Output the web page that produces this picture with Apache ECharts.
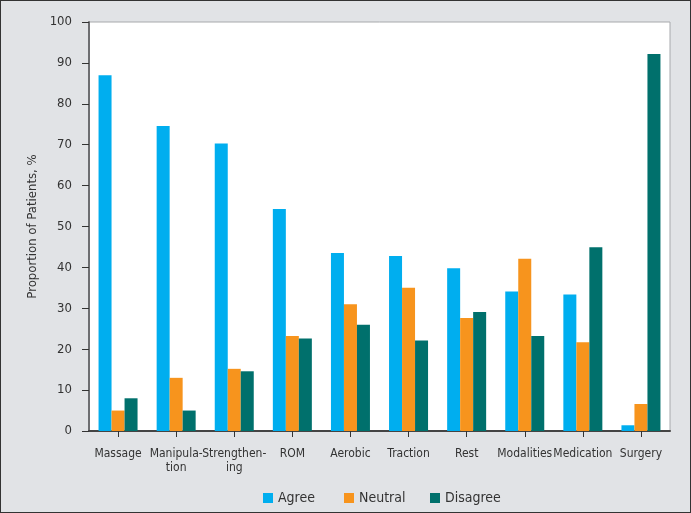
<!DOCTYPE html>
<html><head><meta charset="utf-8">
<script src="https://cdn.jsdelivr.net/npm/echarts@6/dist/echarts.min.js"></script>
<style>
html,body{margin:0;padding:0;background:#e1e3e6;}
#c{width:689px;height:511px;border:1px solid #333;background:#e1e3e6;}
</style></head>
<body><div id="c"></div>
<script>
const categories = ['Massage','Manipula-\ntion','Strengthen-\ning','ROM','Aerobic','Traction','Rest','Modalities','Medication','Surgery'];
const agree =    [87.0, 74.6, 70.3, 54.3, 43.5, 42.8, 39.8, 34.1, 33.4, 1.4];
const neutral =  [5.0, 13.0, 15.2, 23.2, 31.0, 35.0, 27.6, 42.1, 21.7, 6.6];
const disagree = [8.0, 5.0, 14.6, 22.6, 26.0, 22.1, 29.1, 23.2, 44.9, 92.2];
const seriesNames = ['Agree','Neutral','Disagree'];
const colors = ['#00aeef','#f7941d','#00706c'];
const FONT = '"DejaVu Sans Condensed","Liberation Sans Narrow",sans-serif';

const chart = echarts.init(document.getElementById('c'));
const data = [agree, neutral, disagree];
const legendLefts = [262, 343, 429];
chart.setOption({
  animation:false,
  textStyle:{fontFamily:FONT},
  grid:{left:88,right:20,top:21,bottom:81,show:true,backgroundColor:'#ffffff',borderColor:'#a7a9ac',borderWidth:1},
  legend:seriesNames.map((n,i)=>({left:legendLefts[i],top:490,padding:0,itemWidth:10,itemHeight:10,icon:'rect',
    textStyle:{fontFamily:FONT,fontSize:14,color:'#333'},data:[n]})),
  xAxis:{type:'category',data:categories,
    axisLine:{lineStyle:{color:'#444',width:2}},
    axisTick:{show:true,alignWithLabel:true,length:6,lineStyle:{color:'#333'}},
    axisLabel:{fontFamily:FONT,fontSize:12,color:'#333',margin:16,lineHeight:14,interval:0}},
  yAxis:{type:'value',min:0,max:100,interval:10,
    name:'Proportion of Patients, %',nameLocation:'middle',nameGap:48,
    nameTextStyle:{fontFamily:FONT,fontSize:13,color:'#333'},
    axisLine:{show:true,lineStyle:{color:'#6d6e71',width:2}},
    axisTick:{show:true,length:7,lineStyle:{color:'#333'}},
    axisLabel:{fontFamily:FONT,fontSize:13,color:'#333',margin:17},
    splitLine:{show:false}},
  series:seriesNames.map((n,i)=>({name:n,type:'bar',data:data[i],barWidth:13,barGap:'0%',
    itemStyle:{color:colors[i]}}))
});
</script></body></html>
